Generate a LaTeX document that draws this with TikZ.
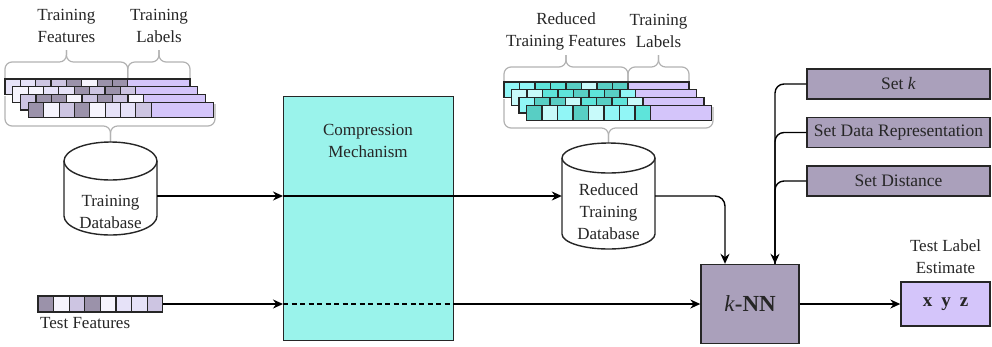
\documentclass[tikz,border=0pt]{standalone}
\usepackage{fontspec}
\setmainfont{Liberation Serif}
\usetikzlibrary{arrows.meta}
\definecolor{cmfill}{RGB}{154,243,235}
\definecolor{knnfill}{RGB}{170,160,187}
\definecolor{lab}{RGB}{212,197,250}
\definecolor{pD}{RGB}{155,146,170}
\definecolor{pM}{RGB}{205,197,226}
\definecolor{pL}{RGB}{230,226,248}
\definecolor{pV}{RGB}{246,244,253}
\definecolor{tD}{RGB}{88,206,196}
\definecolor{tM}{RGB}{94,228,218}
\definecolor{tL}{RGB}{145,246,246}
\definecolor{tV}{RGB}{200,250,250}
\definecolor{bracegray}{RGB}{178,178,178}
\newcommand\featrow[6]{%
  \foreach \c [count=\i from 0] in {#5}{
    \filldraw[cell, fill=\c] ({#1+\i*#3},#2) rectangle ++(#3,15.5);
  }
  \filldraw[cell, fill=#6] ({#1+8*#3},#2) rectangle ++(#4,15.5);
}
\newcommand\cellrow[4]{%
  \foreach \c [count=\i from 0] in {#4}{
    \filldraw[cell, fill=\c] ({#1+\i*#3},#2) rectangle ++(#3,16);
  }
}
\begin{document}
\begin{tikzpicture}[x=1pt,y=-1pt,
  txt/.style={font=\fontsize{17}{22}\selectfont, align=center, inner sep=0pt, text=black!85},
  line/.style={line width=1.4pt, draw=black},
  arr/.style={line width=1.4pt, draw=black, -{Stealth[length=10pt,width=9pt]}},
  boxline/.style={draw=black!85, line width=1.4pt},
  brc/.style={draw=bracegray, line width=1.2pt, rounded corners=7pt},
  cell/.style={draw=black!85, line width=1.2pt},
  setbox/.style={boxline, fill=knnfill, minimum width=183pt, minimum height=30pt, txt, font=\fontsize{17.5}{22}\selectfont},
]
\useasboundingbox (0,0) rectangle (992,346);

% ---------- top labels ----------
\node[txt] (l1) at (66.4,26) {Training\\Features};
\node[txt] (l2) at (159,26) {Training\\Labels};
\node[txt] (l3) at (566,31) {Reduced\\Training Features};
\node[txt] (l4) at (658.5,31) {Training\\Labels};

% ---------- braces (training) ----------
\draw[brc] (5,79) -- (5,62) -- (66.4,62) -- (66.4,50);
\draw[brc] (127.8,79) -- (127.8,62) -- (66.4,62) -- (66.4,50);
\draw[brc] (127.8,79) -- (127.8,62) -- (159,62) -- (159,50);
\draw[brc] (190,79) -- (190,62) -- (159,62) -- (159,50);
\draw[brc] (5,96) -- (5,126) -- (110.5,126) -- (110.5,142);
\draw[brc] (215,104) -- (215,126) -- (110.5,126) -- (110.5,142);

% ---------- braces (reduced) ----------
\draw[brc] (504,82) -- (504,67) -- (566,67) -- (566,55);
\draw[brc] (628,82) -- (628,67) -- (566,67) -- (566,55);
\draw[brc] (628,82) -- (628,67) -- (658.5,67) -- (658.5,55);
\draw[brc] (689,82) -- (689,67) -- (658.5,67) -- (658.5,55);
\draw[brc] (504,99) -- (504,128) -- (608.5,128) -- (608.5,143);
\draw[brc] (713,107) -- (713,128) -- (608.5,128) -- (608.5,143);

% ---------- training rows ----------
\featrow{5}{79}{15.35}{62.2}{pL,pL,pM,pM,pD,pV,pD,pD}{lab}
\featrow{12.8}{86.7}{15.35}{62.2}{pV,pV,pL,pL,pD,pM,pD,pM}{lab}
\featrow{20.6}{94.4}{15.35}{62.2}{pM,pD,pD,pV,pM,pD,pM,pV}{lab}
\featrow{28.4}{102.1}{15.35}{62.2}{pD,pV,pM,pD,pV,pL,pL,pM}{lab}

% ---------- reduced rows ----------
\featrow{504}{82}{15.5}{61}{tL,tL,tM,tM,tD,tV,tD,tD}{lab}
\featrow{511.5}{89.7}{15.5}{61}{tV,tV,tM,tM,tD,tM,tD,tL}{lab}
\featrow{519}{97.4}{15.5}{61}{tL,tD,tD,tV,tM,tD,tM,tV}{lab}
\featrow{526.5}{105.1}{15.5}{61}{tD,tV,tL,tD,tV,tL,tL,tM}{lab}

% ---------- training database ----------
\filldraw[boxline, fill=white] (64,216) arc[start angle=180,end angle=360,x radius=46.5pt,y radius=19pt]
  -- (157,161) arc[start angle=0,end angle=180,x radius=46.5pt,y radius=19pt] -- cycle;
\draw[boxline] (64,161) arc[start angle=180,end angle=360,x radius=46.5pt,y radius=19pt];
\node[minimum width=93pt, minimum height=93pt, inner sep=0pt] (tdb) at (110.5,188.5) {};
\node[txt] (tdbt) at (110.5,212) {Training\\Database};

% ---------- reduced database ----------
\filldraw[boxline, fill=white] (562,234) arc[start angle=180,end angle=360,x radius=46.5pt,y radius=15pt]
  -- (655,158) arc[start angle=0,end angle=180,x radius=46.5pt,y radius=15pt] -- cycle;
\draw[boxline] (562,158) arc[start angle=180,end angle=360,x radius=46.5pt,y radius=15pt];
\node[minimum width=93pt, minimum height=106pt, inner sep=0pt] (rdb) at (608.5,196) {};
\node[txt] (rdbt) at (608.5,212) {Reduced\\Training\\Database};

% ---------- compression mechanism ----------
\node[boxline, fill=cmfill, minimum width=170pt, minimum height=244pt, anchor=north west, inner sep=0pt] (cm) at (283,96) {};
\node[txt] (cmt) at (368,141) {Compression\\Mechanism};

% ---------- test features ----------
\cellrow{38}{296}{15.6}{pD,pV,pM,pD,pV,pL,pL,pM}
\node[minimum width=124.8pt, minimum height=16pt, inner sep=0pt] (tf) at (100.4,304) {};
\node[txt, anchor=west] (tft) at (40,323) {Test Features};

% ---------- kNN and settings ----------
\node[boxline, fill=knnfill, minimum width=98pt, minimum height=79pt, txt] (knn) at (750,304)
  {\fontsize{23}{26}\selectfont\textit{k}\textbf{-NN}};
\node[setbox] (sk) at (898.5,84) {Set \textit{k}};
\node[setbox] (sdr) at (898.5,132.5) {Set Data Representation};
\node[setbox] (sd) at (898.5,181) {Set Distance};

\node[boxline, fill=lab, minimum width=89pt, minimum height=44pt, txt] (tl) at (945.5,304)
  {\fontsize{19}{22}\selectfont\textbf{x\hspace{9pt}y\hspace{9pt}z}};
\node[txt] (tlt) at (945.5,257) {Test Label\\Estimate};

% ---------- connectors ----------
\coordinate (p1) at ([yshift=-7.5pt]tdb.east);
\draw[arr] (p1) -- (p1 -| cm.west);
\draw[arr] (p1 -| cm.west) -- (p1 -| rdb.west);

\draw[arr] (tf.east) -- (tf.east -| cm.west);
\draw[line, dash pattern=on 5pt off 3.5pt] (tf.east -| cm.west) -- (tf.east -| cm.east);
\draw[arr] (tf.east -| cm.east) -- (tf.east -| knn.west);

\draw[arr, rounded corners=10pt] (rdb.east) -| ([xshift=-25pt]knn.north);
\draw[line, rounded corners=9pt] (sdr.west) -| ([xshift=25pt]knn.north);
\draw[line, rounded corners=9pt] (sd.west) -| ([xshift=25pt]knn.north);
\draw[arr, rounded corners=9pt] (sk.west) -| ([xshift=25pt]knn.north);

\draw[arr] (knn.east) -- (tl.west);
\end{tikzpicture}
\end{document}
